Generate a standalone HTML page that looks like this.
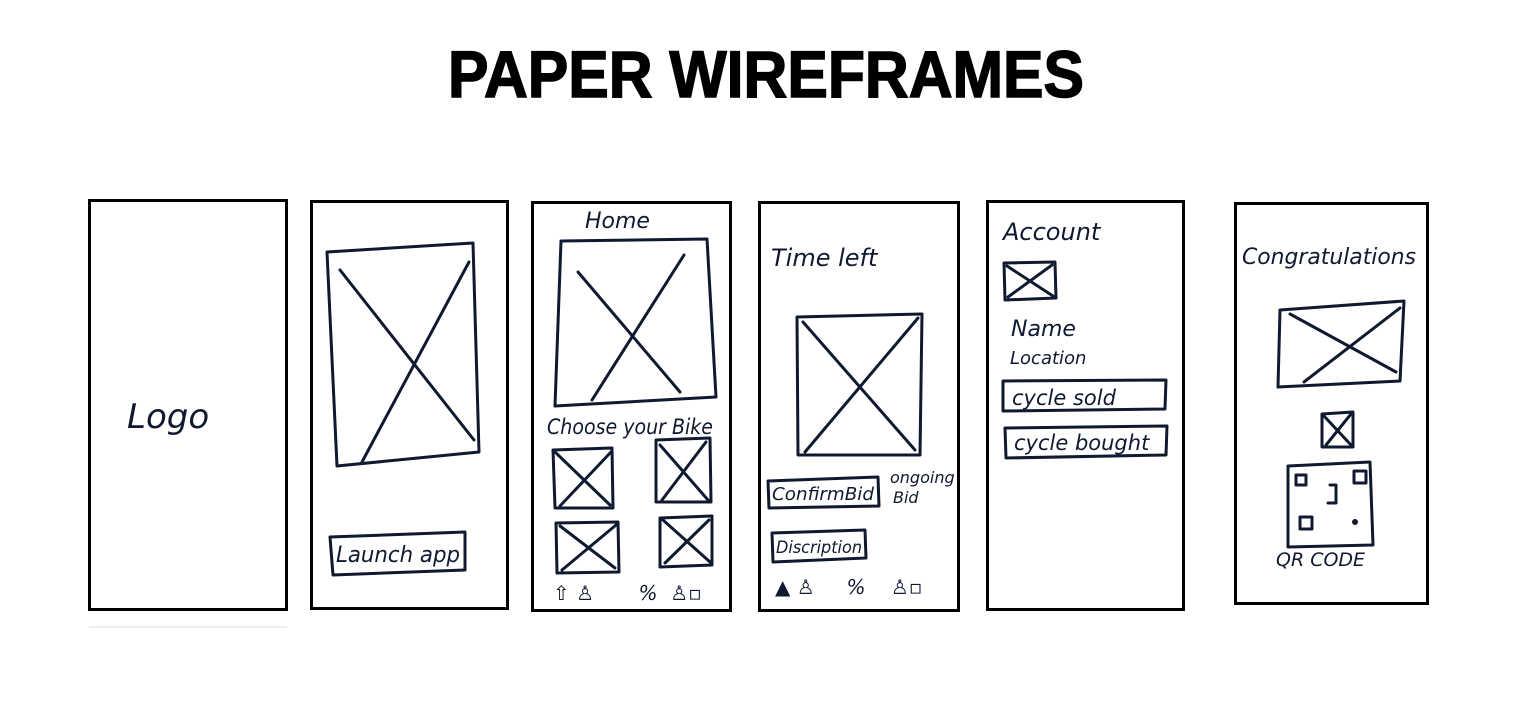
<!DOCTYPE html>
<html><head><meta charset="utf-8"><style>
html,body{margin:0;padding:0;background:#fff;}
svg{display:block}
.f{fill:none;stroke:#000;stroke-width:3}
.s{fill:none;stroke:#0f1a30;stroke-width:3;stroke-linecap:round;stroke-linejoin:round}
.h{font-family:"DejaVu Sans","Liberation Sans",sans-serif;fill:#0f1a30;font-style:italic;white-space:pre}
</style></head><body>
<svg width="1515" height="712" viewBox="0 0 1515 712">
<text x="766" y="97" text-anchor="middle" font-family="Liberation Sans,sans-serif" font-weight="bold" font-size="66" stroke="#000" stroke-width="1.5" textLength="636" lengthAdjust="spacingAndGlyphs">PAPER WIREFRAMES</text>

<g>
<rect class="f" x="89.5" y="200.5" width="197" height="409"/>
<line x1="89" y1="627" x2="287" y2="627" stroke="#eee" stroke-width="2"/>
<text class="h" x="127" y="428" font-size="34">Logo</text>
</g>

<g>
<rect class="f" x="311.5" y="201.5" width="196" height="407"/>
<path class="s" d="M327 252 L473 243 L479 452 L337 466 Z M340 270 L474 440 M469 262 L362 462"/>
<path class="s" d="M330 537 L465 532 L465 570 L333 575 Z"/>
<text class="h" x="336" y="562" font-size="22" textLength="124" lengthAdjust="spacingAndGlyphs">Launch app</text>
</g>

<g>
<rect class="f" x="532.5" y="202.5" width="198" height="408"/>
<text class="h" x="585" y="228" font-size="22">Home</text>
<path class="s" d="M561 241 L707 239 L716 397 L555 406 Z M578 272 L680 392 M684 255 L592 400"/>
<text class="h" x="547" y="434" font-size="21" textLength="166" lengthAdjust="spacingAndGlyphs">Choose your Bike</text>
<path class="s" d="M553 450 L612 448 L613 508 L555 508 Z M555 452 L610 505 M611 452 L560 506"/>
<path class="s" d="M656 440 L710 438 L711 502 L656 502 Z M660 445 L708 500 M706 442 L662 500"/>
<path class="s" d="M556 523 L618 522 L619 572 L557 573 Z M560 526 L615 568 M616 525 L562 570"/>
<path class="s" d="M660 518 L712 516 L712 565 L660 567 Z M663 520 L710 562 M709 520 L665 563"/>
<text class="h" x="553" y="600" font-size="20" xml:space="preserve">⇧ ♙       %  ♙▫</text>
</g>

<g>
<rect class="f" x="759.5" y="202.5" width="199" height="408"/>
<text class="h" x="771" y="266" font-size="24">Time left</text>
<path class="s" d="M797 317 L922 314 L920 455 L798 455 Z M803 322 L915 450 M918 318 L805 452"/>
<path class="s" d="M768 481 L878 477 L879 506 L769 508 Z"/>
<text class="h" x="772" y="500" font-size="18" textLength="102" lengthAdjust="spacingAndGlyphs">ConfirmBid</text>
<text class="h" x="890" y="483" font-size="16">ongoing</text>
<text class="h" x="893" y="503" font-size="16">Bid</text>
<path class="s" d="M772 533 L865 530 L866 558 L773 562 Z"/>
<text class="h" x="776" y="553" font-size="17" textLength="86" lengthAdjust="spacingAndGlyphs">Discription</text>
<text class="h" x="775" y="594" font-size="20" xml:space="preserve">▲ ♙     %    ♙▫</text>
</g>

<g>
<rect class="f" x="987.5" y="201.5" width="196" height="408"/>
<text class="h" x="1003" y="240" font-size="24">Account</text>
<path class="s" d="M1004 263 L1055 262 L1056 298 L1005 300 Z M1007 266 L1053 296 M1052 265 L1008 297"/>
<text class="h" x="1011" y="336" font-size="22">Name</text>
<text class="h" x="1010" y="364" font-size="18">Location</text>
<path class="s" d="M1003 381 L1166 380 L1165 409 L1003 411 Z"/>
<text class="h" x="1012" y="405" font-size="21">cycle sold</text>
<path class="s" d="M1005 428 L1167 426 L1166 455 L1006 458 Z"/>
<text class="h" x="1014" y="450" font-size="21">cycle bought</text>
</g>

<g>
<rect class="f" x="1235.5" y="203.5" width="192" height="400"/>
<text class="h" x="1242" y="264" font-size="22" textLength="174" lengthAdjust="spacingAndGlyphs">Congratulations</text>
<path class="s" d="M1280 310 L1404 301 L1400 381 L1278 387 Z M1290 314 L1396 372 M1400 308 L1304 382"/>
<path class="s" d="M1322 414 L1353 412 L1353 447 L1322 447 Z M1324 416 L1351 445 M1351 414 L1326 445"/>
<path class="s" d="M1288 466 L1370 462 L1373 545 L1288 547 Z M1296 475 l10 0 l0 10 l-10 0 Z M1354 471 l12 0 l0 12 l-12 0 Z M1300 517 l12 0 l0 12 l-12 0 Z M1330 485 l6 0 l0 18 l-8 0"/>
<circle cx="1355" cy="522" r="3" fill="#0f1a30"/>
<text class="h" x="1276" y="566" font-size="19">QR CODE</text>
</g>
</svg>
</body></html>
